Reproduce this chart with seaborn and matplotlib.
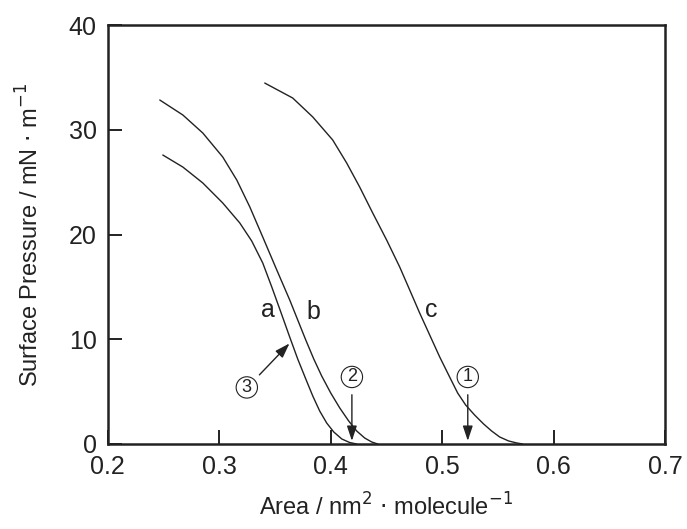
import numpy as np
import pandas as pd
import matplotlib
matplotlib.use('Agg')
import matplotlib.pyplot as plt
import seaborn as sns

# isotherm curves
area_a = [0.2493, 0.2673, 0.2852, 0.3031, 0.3184, 0.3291, 0.3390, 0.3471, 0.3552, 0.3632,
          0.3704, 0.3776, 0.3839, 0.3901, 0.3964, 0.4027, 0.4099, 0.4170, 0.4233]
press_a = [27.59, 26.44, 24.92, 23.01, 21.10, 19.38, 17.28, 14.99, 12.60, 10.21,
           8.11, 6.21, 4.58, 3.15, 2.00, 1.15, 0.48, 0.14, 0.0]

area_b = [0.2466, 0.2673, 0.2852, 0.3031, 0.3157, 0.3274, 0.3390, 0.3516, 0.3632, 0.3704,
          0.3776, 0.3848, 0.3919, 0.4000, 0.4081, 0.4161, 0.4233, 0.4305, 0.4368, 0.4422]
press_b = [32.84, 31.41, 29.69, 27.40, 25.20, 22.63, 19.76, 16.61, 13.75, 11.84,
           9.93, 8.11, 6.49, 4.87, 3.44, 2.20, 1.24, 0.57, 0.19, 0.0]

area_c = [0.3408, 0.3659, 0.3839, 0.4018, 0.4143, 0.4260, 0.4377, 0.4502, 0.4619, 0.4709,
          0.4798, 0.4888, 0.4978, 0.5067, 0.5139, 0.5211, 0.5291, 0.5372, 0.5444, 0.5516,
          0.5596, 0.5668, 0.5722]
press_c = [34.46, 33.03, 31.22, 29.02, 26.83, 24.53, 22.05, 19.47, 16.90, 14.70,
           12.51, 10.41, 8.31, 6.40, 4.87, 3.72, 2.77, 1.91, 1.24, 0.67,
           0.29, 0.10, 0.0]

curve_names = ['a', 'b', 'c']
label_x = [0.3435, 0.384, 0.4906]
label_y = [12.8, 12.6, 12.8]

# circled markers: number, text pos, arrow tail, arrow head
mark_num = ['1', '2', '3']
mark_x = [0.523, 0.419, 0.3247]
mark_y = [6.4, 6.4, 5.4]
tail_x = [0.523, 0.419, 0.336]
tail_y = [4.7, 4.7, 6.6]
head_x = [0.523, 0.419, 0.363]
head_y = [0.3, 0.3, 9.6]

df = pd.concat([
    pd.DataFrame({'area': area_a, 'pressure': press_a, 'curve': 'a'}),
    pd.DataFrame({'area': area_b, 'pressure': press_b, 'curve': 'b'}),
    pd.DataFrame({'area': area_c, 'pressure': press_c, 'curve': 'c'}),
])

sns.set_style('ticks', {'xtick.direction': 'in', 'ytick.direction': 'in'})
plt.rcParams['font.family'] = ['Liberation Sans', 'DejaVu Sans']
ink = '#222222'

fig = plt.figure(figsize=(6.87, 5.29), dpi=100)
ax = fig.add_axes([0.157, 0.1607, 0.811, 0.792])

sns.lineplot(data=df, x='area', y='pressure', units='curve', estimator=None,
             sort=False, color=ink, linewidth=1.0, ax=ax)

for n, x, y in zip(curve_names, label_x, label_y):
    ax.text(x, y, n, fontsize=18, ha='center', va='center', color=ink)

for n, x, y, tx, ty, hx, hy in zip(mark_num, mark_x, mark_y, tail_x, tail_y, head_x, head_y):
    ax.text(x, y, n, fontsize=13, ha='center', va='center', color=ink,
            bbox=dict(boxstyle='circle,pad=0.12', fc='white', ec=ink, lw=0.8))
    ax.annotate('', xy=(hx, hy), xytext=(tx, ty),
                arrowprops=dict(arrowstyle='-|>,head_length=0.9,head_width=0.3',
                                color=ink, lw=1.0, shrinkA=0, shrinkB=0))

ax.set_xlim(0.2, 0.7)
ax.set_ylim(0, 40)
ax.set_xticks([0.2, 0.3, 0.4, 0.5, 0.6, 0.7])
ax.set_xticklabels(['0.2', '0.3', '0.4', '0.5', '0.6', '0.7'])
ax.set_yticks([0, 10, 20, 30, 40])

ax.tick_params(axis='both', direction='in', length=10, width=1.4,
               color=ink, labelcolor=ink, labelsize=18, top=False, right=False)
ax.tick_params(axis='x', pad=8)
ax.tick_params(axis='y', pad=8)

for s in ax.spines.values():
    s.set_visible(True)
    s.set_color(ink)
    s.set_linewidth(1.8)

ax.set_xlabel('Area / nm$^2$ $\\cdot$ molecule$^{-1}$', fontsize=17, color=ink, labelpad=10)
ax.set_ylabel('Surface Pressure / mN $\\cdot$ m$^{-1}$', fontsize=17, color=ink, labelpad=18)

fig.savefig('out.png', dpi=100)
